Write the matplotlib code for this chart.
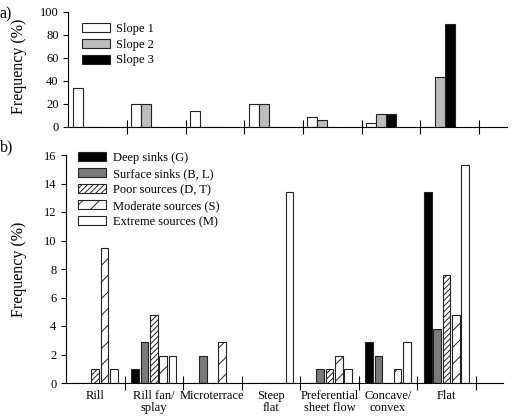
import matplotlib.pyplot as plt
import numpy as np

plt.rcParams['font.family'] = ['Liberation Serif', 'DejaVu Serif']
plt.rcParams['hatch.linewidth'] = 0.7

categories = ['Rill', 'Rill fan/\nsplay', 'Microterrace', 'Steep\nflat',
              'Preferential\nsheet flow', 'Concave/\nconvex', 'Flat']

# panel a) - frequency of each slope (%)
slope1 = [34, 20, 14, 20, 8.7, 3, 0]
slope2 = [0, 20, 0, 20, 5.6, 11.3, 43]
slope3 = [0, 0, 0, 0, 0, 11.3, 89]

# panel b) - frequency of source/sink classes (%)
deep_sinks = [0, 1, 0, 0, 0, 2.9, 13.4]
surface_sinks = [0, 2.9, 1.9, 0, 1, 1.9, 3.8]
poor_sources = [1, 4.8, 0, 0, 1, 0, 7.6]
moderate_sources = [9.5, 1.9, 2.9, 0, 1.9, 1, 4.8]
extreme_sources = [1, 1.9, 0, 13.4, 1, 2.9, 15.3]

W, H = 515, 420
fig = plt.figure(figsize=(W / 100, H / 100), dpi=100)
ax1 = fig.add_axes([68.3 / W, 1 - 126.7 / H, (506.7 - 68.3) / W, (126.7 - 11.7) / H])
ax2 = fig.add_axes([66 / W, 1 - 383 / H, (503.3 - 66) / W, (383 - 155) / H])

x = np.arange(len(categories))
ec = '#222222'
lw = 0.8

# ---- top panel
bw = 0.17
a_series = [(slope1, 'white', 'Slope 1'), (slope2, '#bdbdbd', 'Slope 2'), (slope3, 'black', 'Slope 3')]
for k, (vals, col, lab) in enumerate(a_series):
    ax1.bar(x - 0.5 + 0.073 + bw / 2 + k * bw, vals, width=bw, color=col,
            edgecolor=ec, linewidth=lw, label=lab)
ax1.set_ylim(0, 100)
ax1.set_yticks(np.arange(0, 101, 20))
ax1.set_ylabel('Frequency (%)', fontsize=11.5)

# ---- bottom panel
bw2 = 0.13
sp = 0.16
b_series = [
    (deep_sinks, 'black', None, 'Deep sinks (G)'),
    (surface_sinks, '#7a7a7a', None, 'Surface sinks (B, L)'),
    (poor_sources, 'white', '//////', 'Poor sources (D, T)'),
    (moderate_sources, 'white', '//', 'Moderate sources (S)'),
    (extreme_sources, 'white', None, 'Extreme sources (M)'),
]
for k, (vals, col, hatch, lab) in enumerate(b_series):
    ax2.bar(x + (k - 2) * sp, vals, width=bw2, color=col, hatch=hatch,
            edgecolor=ec, linewidth=lw, label=lab)
ax2.set_ylim(0, 16)
ax2.set_yticks(np.arange(0, 17, 2))
ax2.set_ylabel('Frequency (%)', fontsize=11.5)
ax2.set_xticks(x)
ax2.set_xticklabels(categories, fontsize=9, linespacing=1.05)

for ax in (ax1, ax2):
    ax.set_xlim(-0.5, 6.97)
    for s in ('top', 'right'):
        ax.spines[s].set_visible(False)
    ax.spines['left'].set_linewidth(0.8)
    ax.spines['bottom'].set_linewidth(0.8)
    ax.set_xticks(np.arange(0.5, 7, 1), minor=True)
    ax.tick_params(axis='x', which='minor', direction='inout', length=10.5, width=0.8)
    ax.tick_params(axis='x', which='major', length=0, pad=5)
    ax.tick_params(axis='y', direction='out', length=3.5, width=0.8, labelsize=9, pad=3.5)

# y labels placed in figure pixels (right edge of rotated text)
ax1.yaxis.set_label_coords(27 / W, 1 - 66 / H, transform=fig.transFigure)
ax2.yaxis.set_label_coords(27 / W, 1 - 269 / H, transform=fig.transFigure)

ax1.set_xticks(x)
ax1.set_xticklabels([])

ax1.legend(loc='upper left', bbox_to_anchor=(81.5 / W, 1 - 23 / H), bbox_transform=fig.transFigure,
           frameon=False, fontsize=9, handlelength=2.25, handleheight=0.7,
           labelspacing=0.3, handletextpad=0.55, borderpad=0, borderaxespad=0)
ax2.legend(loc='upper left', bbox_to_anchor=(78 / W, 1 - 152 / H), bbox_transform=fig.transFigure,
           frameon=False, fontsize=9, handlelength=2.25, handleheight=0.7,
           labelspacing=0.32, handletextpad=0.55, borderpad=0, borderaxespad=0)

fig.text(0 / W, 1 - 14 / H, 'a)', fontsize=11.5, va='center', ha='left')
fig.text(0 / W, 1 - 147 / H, 'b)', fontsize=11.5, va='center', ha='left')

fig.savefig('out.png', dpi=100)
